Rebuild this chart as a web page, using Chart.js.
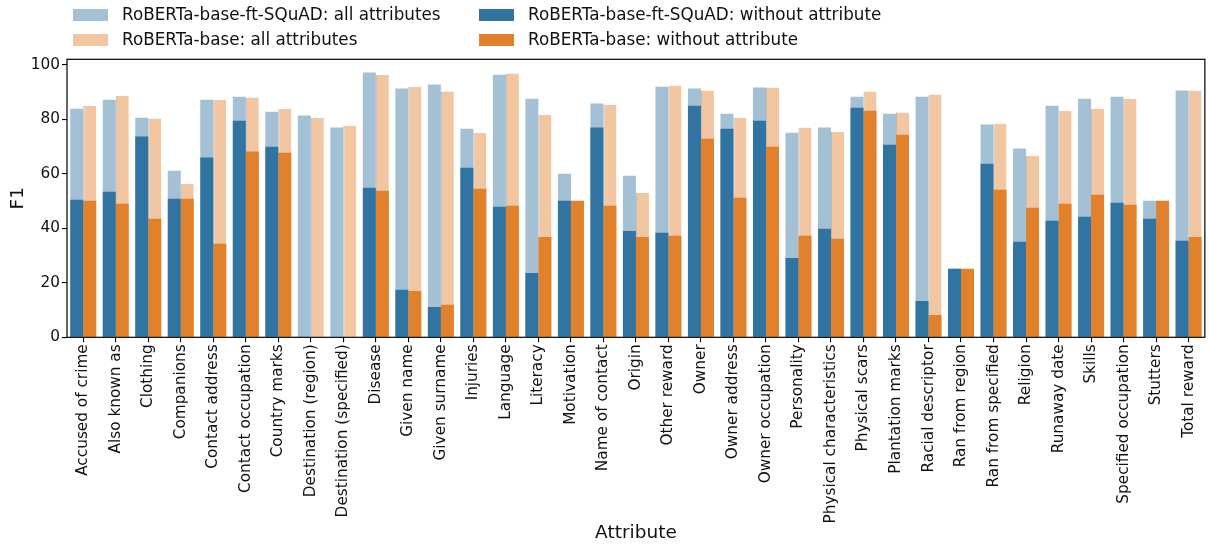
<!DOCTYPE html>
<html>
<head>
<meta charset="utf-8">
<script src="https://cdn.jsdelivr.net/npm/chart.js@4/dist/chart.umd.min.js"></script>
<style>
  html, body { margin: 0; padding: 0; background: #ffffff; }
  #wrap { width: 1209px; height: 544px; }
</style>
</head>
<body>
<div id="wrap"><canvas id="chart" width="1209" height="544"></canvas></div>
<script>
// Attribute names along the x axis
const categories = [
  'Accused of crime', 'Also known as', 'Clothing', 'Companions', 'Contact address',
  'Contact occupation', 'Country marks', 'Destination (region)', 'Destination (specified)',
  'Disease', 'Given name', 'Given surname', 'Injuries', 'Language', 'Literacy',
  'Motivation', 'Name of contact', 'Origin', 'Other reward', 'Owner', 'Owner address',
  'Owner occupation', 'Personality', 'Physical characteristics', 'Physical scars',
  'Plantation marks', 'Racial descriptor', 'Ran from region', 'Ran from specified',
  'Religion', 'Runaway date', 'Skills', 'Specified occupation', 'Stutters', 'Total reward'
];

// F1 with all attributes present
const ftAll = [83.8, 87.1, 80.5, 61.1, 87.1, 88.2, 82.7, 81.3, 76.9, 97.1, 91.2, 92.7, 76.5, 96.3, 87.5,
  60.0, 85.7, 59.2, 91.9, 91.2, 82.0, 91.6, 75.0, 76.9, 88.2, 82.0, 88.2, 25.1, 78.0, 69.2,
  84.9, 87.5, 88.2, 50.1, 90.5];
const baseAll = [84.9, 88.6, 80.2, 56.3, 87.1, 87.9, 83.8, 80.5, 77.6, 96.3, 91.9, 90.1, 75.0, 96.7, 81.6,
  50.1, 85.3, 53.0, 92.3, 90.5, 80.5, 91.6, 76.9, 75.4, 90.1, 82.4, 89.0, 25.1, 78.3, 66.6,
  83.1, 83.8, 87.5, 50.1, 90.5];

// F1 with the attribute removed
const ftWithout = [50.4, 53.4, 73.6, 50.8, 65.9, 79.4, 69.9, null, null, 54.8, 17.4, 11.1, 62.2, 47.9, 23.6,
  50.1, 76.9, 39.0, 38.3, 84.9, 76.5, 79.4, 29.1, 39.8, 84.2, 70.6, 13.3, 25.1, 63.6, 35.0,
  42.7, 44.2, 49.3, 43.5, 35.4];
const baseWithout = [50.1, 49.0, 43.5, 50.8, 34.3, 68.1, 67.7, null, null, 53.7, 17.0, 11.9, 54.5, 48.2, 36.8,
  50.1, 48.2, 36.8, 37.2, 72.8, 51.2, 69.9, 37.2, 36.1, 83.1, 74.3, 8.2, 25.1, 54.1, 47.5,
  49.0, 52.3, 48.6, 50.1, 36.8];

const yTicks = [0, 20, 40, 60, 80, 100];

const FONT = 'DejaVu Sans';
const COLORS = {
  ftDark: '#3274a1',
  baseDark: '#e1812c',
  ftLight: '#a3c0d5',
  baseLight: '#f2c6a0'
};

const legendItems = [
  { label: 'RoBERTa-base-ft-SQuAD: all attributes', color: COLORS.ftLight, col: 0, row: 0 },
  { label: 'RoBERTa-base: all attributes', color: COLORS.baseLight, col: 0, row: 1 },
  { label: 'RoBERTa-base-ft-SQuAD: without attribute', color: COLORS.ftDark, col: 1, row: 0 },
  { label: 'RoBERTa-base: without attribute', color: COLORS.baseDark, col: 1, row: 1 }
];

// Two-column legend above the plot, plus a full frame around the plot area
const framePlugin = {
  id: 'frameAndLegend',
  afterDraw(chart) {
    const ctx = chart.ctx;
    const a = chart.chartArea;
    ctx.save();
    ctx.strokeStyle = '#000000';
    ctx.lineWidth = 1.2;
    ctx.strokeRect(a.left, a.top, a.right - a.left, a.bottom - a.top);

    const colX = [73, 479];
    const rowY = [15, 40];
    ctx.font = '16.8px "' + FONT + '"';
    ctx.textBaseline = 'middle';
    ctx.textAlign = 'left';
    legendItems.forEach(it => {
      const x = colX[it.col];
      const y = rowY[it.row];
      ctx.fillStyle = it.color;
      ctx.fillRect(x, y - 6, 35, 12);
      ctx.fillStyle = '#111111';
      ctx.fillText(it.label, x + 49, y + 1);
    });
    ctx.restore();
  }
};

// Each model shares one slot per category ("stack"); the light and dark
// bars of a model overlap in that slot, values are not summed (y unstacked).
new Chart(document.getElementById('chart'), {
  type: 'bar',
  data: {
    labels: categories,
    datasets: [
      { label: 'RoBERTa-base-ft-SQuAD: all attributes', data: ftAll, backgroundColor: COLORS.ftLight,
        stack: 'ft', order: 2, categoryPercentage: 0.8, barPercentage: 1.0 },
      { label: 'RoBERTa-base: all attributes', data: baseAll, backgroundColor: COLORS.baseLight,
        borderColor: 'rgba(130,125,120,0.55)', borderWidth: { left: 1, top: 0, right: 0, bottom: 0 },
        borderSkipped: false,
        stack: 'base', order: 2, categoryPercentage: 0.8, barPercentage: 1.0 },
      { label: 'RoBERTa-base-ft-SQuAD: without attribute', data: ftWithout, backgroundColor: COLORS.ftDark,
        stack: 'ft', order: 1, categoryPercentage: 0.8, barPercentage: 1.0 },
      { label: 'RoBERTa-base: without attribute', data: baseWithout, backgroundColor: COLORS.baseDark,
        stack: 'base', order: 1, categoryPercentage: 0.8, barPercentage: 1.0 }
    ]
  },
  options: {
    responsive: false,
    animation: false,
    devicePixelRatio: 1,
    layout: { padding: { top: 59.3, left: 0, right: 2, bottom: 0 } },
    plugins: {
      legend: { display: false },
      tooltip: { enabled: false }
    },
    scales: {
      x: {
        type: 'category',
        stacked: true,
        offset: true,
        grid: { display: true, drawOnChartArea: false, drawTicks: true, tickLength: 5,
                color: '#000000', lineWidth: 1.1, offset: false },
        border: { display: false },
        ticks: {
          autoSkip: false, minRotation: 90, maxRotation: 90, padding: 2,
          color: '#111111', font: { family: FONT, size: 15.3 }
        },
        title: {
          display: true, text: 'Attribute', color: '#111111',
          font: { family: FONT, size: 18.5 }, padding: { top: 0, bottom: 0 }
        },
        afterFit(scale) { scale.height = 206.7; }
      },
      y: {
        stacked: false,
        min: 0,
        max: 101.95,
        grid: { display: true, drawOnChartArea: false, drawTicks: true, tickLength: 5,
                color: '#000000', lineWidth: 1.1 },
        border: { display: false },
        afterBuildTicks(scale) { scale.ticks = yTicks.map(v => ({ value: v })); },
        ticks: {
          padding: 2, color: '#111111', font: { family: FONT, size: 15.3 }
        },
        title: {
          display: true, text: 'F1', color: '#111111',
          font: { family: FONT, size: 18.5 }, padding: { top: 7, bottom: 0 }
        },
        afterFit(scale) { scale.width = 67; }
      }
    }
  },
  plugins: [framePlugin]
});
</script>
</body>
</html>
